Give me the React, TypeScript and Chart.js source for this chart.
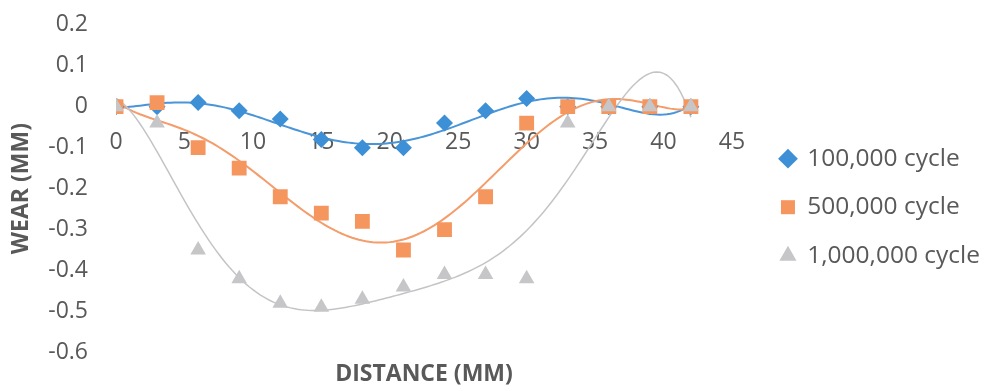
import { useEffect, useRef } from "react";
import { Chart, registerables } from "chart.js";

Chart.register(...registerables);

const distance = [0, 3, 6, 9, 12, 15, 18, 21, 24, 27, 30, 33, 36, 39, 42];
const wear100k = [0, 0, 0.01, -0.01, -0.03, -0.08, -0.1, -0.1, -0.04, -0.01, 0.02, 0, 0, 0, 0];
const wear500k = [0, 0.01, -0.1, -0.15, -0.22, -0.26, -0.28, -0.35, -0.3, -0.22, -0.04, 0, 0, 0, 0];
const wear1m = [0, -0.04, -0.35, -0.42, -0.48, -0.49, -0.47, -0.44, -0.41, -0.41, -0.42, -0.04, 0, 0, 0];
const seriesNames = ["100,000 cycle", "500,000 cycle", "1,000,000 cycle"];

const FONT = "'Open Sans', sans-serif";
const TEXT = "#595959";

// least squares polynomial trendline (like Excel's polynomial trendline)
function polyfit(xs: number[], ys: number[], deg: number) {
  const s = 42;
  const n = deg + 1;
  const A: number[][] = Array.from({ length: n }, () => new Array(n + 1).fill(0));
  for (let k = 0; k < xs.length; k++) {
    const t = xs[k] / s;
    for (let i = 0; i < n; i++) {
      for (let j = 0; j < n; j++) A[i][j] += Math.pow(t, i + j);
      A[i][n] += ys[k] * Math.pow(t, i);
    }
  }
  for (let c = 0; c < n; c++) {
    let p = c;
    for (let r = c + 1; r < n; r++) if (Math.abs(A[r][c]) > Math.abs(A[p][c])) p = r;
    [A[c], A[p]] = [A[p], A[c]];
    for (let r = 0; r < n; r++) {
      if (r === c) continue;
      const f = A[r][c] / A[c][c];
      for (let k = c; k <= n; k++) A[r][k] -= f * A[c][k];
    }
  }
  const coef = A.map((row, i) => row[n] / row[i]);
  return (x: number) => coef.reduce((acc, c, i) => acc + c * Math.pow(x / s, i), 0);
}

function trend(ys: number[]) {
  const f = polyfit(distance, ys, 6);
  const pts: { x: number; y: number }[] = [];
  const last = distance[distance.length - 1];
  for (let x = distance[0]; x <= last + 1e-9; x += 0.25) pts.push({ x, y: f(x) });
  return pts;
}

const toPts = (ys: number[]) => distance.map((x, i) => ({ x, y: ys[i] }));

export default function App() {
  const ref = useRef<HTMLCanvasElement | null>(null);
  useEffect(() => {
    if (!ref.current) return;
    const blue = "#3d8fd6";
    const orange = "#f5965f";
    const gray = "#c6c6c8";
    const chart = new Chart(ref.current, {
      type: "scatter",
      data: {
        datasets: [
          { label: seriesNames[0], data: toPts(wear100k), pointStyle: "rectRot", pointRadius: 8.5, backgroundColor: blue, borderColor: blue, borderWidth: 0, order: 2 },
          { label: seriesNames[1], data: toPts(wear500k), pointStyle: "rect", pointRadius: 10.5, backgroundColor: orange, borderColor: orange, borderWidth: 0, order: 1 },
          { label: seriesNames[2], data: toPts(wear1m), pointStyle: "triangle", pointRadius: 9, backgroundColor: gray, borderColor: gray, borderWidth: 0, order: 0 },
          { label: "t1", data: trend(wear100k), showLine: true, pointRadius: 0, borderColor: "#4a95d8", borderWidth: 2, order: 5 },
          { label: "t2", data: trend(wear500k), showLine: true, pointRadius: 0, borderColor: "#f49c6a", borderWidth: 2, order: 4 },
          { label: "t3", data: trend(wear1m), showLine: true, pointRadius: 0, borderColor: "#c4c4c6", borderWidth: 1.5, order: 3 },
        ] as any,
      },
      options: {
        animation: false,
        responsive: true,
        maintainAspectRatio: false,
        layout: { padding: { top: 8, left: 8, right: 2, bottom: 3 } },
        plugins: {
          tooltip: { enabled: false },
          legend: {
            position: "right",
            align: "center",
            maxWidth: 300,
            title: { display: true, text: " ", font: { size: 12 }, padding: 2 },
            labels: {
              usePointStyle: true,
              boxWidth: 14,
              boxHeight: 14,
              padding: 24,
              color: TEXT,
              font: { family: FONT, size: 24.5 },
              filter: (item: any) => item.datasetIndex < 3,
              sort: (a: any, b: any) => a.datasetIndex - b.datasetIndex,
            },
          },
        },
        scales: {
          x: {
            type: "linear",
            position: { y: 0 } as any,
            min: 0,
            max: 45,
            grid: { display: false },
            border: { display: false },
            ticks: { stepSize: 5, color: TEXT, font: { family: FONT, size: 23 }, padding: 14 },
            afterFit: (s: any) => { s.height = 0; },
          },
          x2: {
            type: "linear",
            position: "bottom",
            min: 0,
            max: 45,
            grid: { display: false, drawTicks: false },
            border: { display: false },
            ticks: { display: false },
            title: { display: true, text: "DISTANCE (MM)", color: TEXT, font: { family: FONT, size: 23, weight: "bold" }, padding: { top: 8, bottom: 0 } },
          },
          y: {
            type: "linear",
            min: -0.6,
            max: 0.2,
            grid: { display: false, tickLength: 17 },
            border: { display: false },
            ticks: {
              stepSize: 0.1,
              color: TEXT,
              font: { family: FONT, size: 23 },
              padding: 11,
              callback: (v: any) => {
                const n = Math.round(Number(v) * 10) / 10;
                return n === 0 ? "0" : String(n);
              },
            },
            title: { display: true, text: "WEAR (MM)", color: TEXT, font: { family: FONT, size: 23, weight: "bold" }, padding: { top: 0, bottom: 0 } },
            afterFit: (s: any) => { s.width = 108; },
          },
          y2: {
            type: "linear",
            position: "right",
            min: 0,
            max: 1,
            grid: { display: false, drawTicks: false },
            border: { display: false },
            ticks: { display: false },
            afterFit: (s: any) => { s.width = 25; },
          },
        },
      } as any,
    });
    return () => chart.destroy();
  }, []);
  return (
    <div style={{ position: "absolute", left: 0, top: 0, width: 992, height: 391, background: "#fff" }}>
      <canvas ref={ref} />
    </div>
  );
}
